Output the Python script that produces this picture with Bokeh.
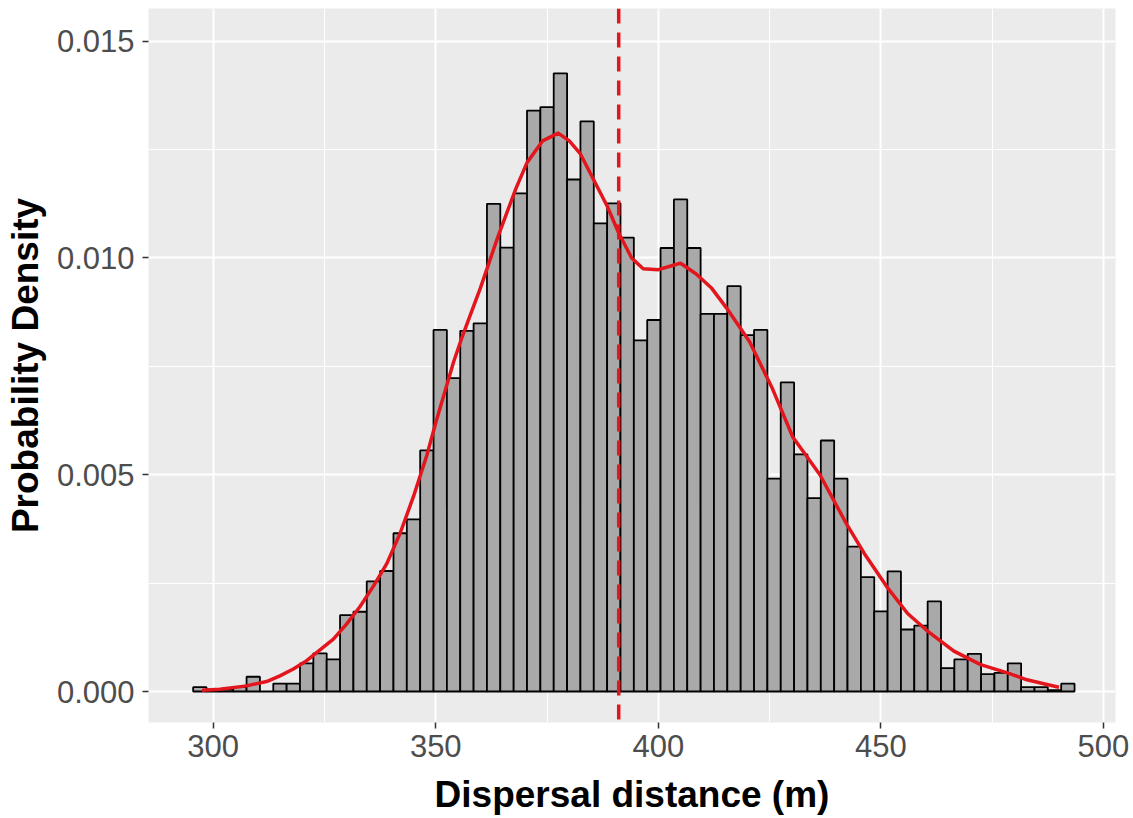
import numpy as np
from bokeh.plotting import figure
from bokeh.models import Range1d, FixedTicker, PrintfTickFormatter, Span, ColumnDataSource
from bokeh.embed import file_html
from bokeh.resources import INLINE

# ---- data ----
bin_start = 295.5
bin_width = 3.0
density_hist = [
    0.00010, 0.00005, 0.00005, 0.00010, 0.00034, 0.00000, 0.00018, 0.00018,
    0.00065, 0.00088, 0.00074, 0.00176, 0.00184, 0.00254, 0.00278, 0.00365,
    0.00397, 0.00556, 0.00834, 0.00723, 0.00832, 0.00849, 0.01125, 0.01024,
    0.01149, 0.01340, 0.01348, 0.01426, 0.01181, 0.01315, 0.01080, 0.01126,
    0.01047, 0.00810, 0.00857, 0.01023, 0.01135, 0.01023, 0.00871, 0.00871,
    0.00935, 0.00822, 0.00834, 0.00491, 0.00713, 0.00547, 0.00446, 0.00579,
    0.00491, 0.00334, 0.00264, 0.00185, 0.00277, 0.00143, 0.00152, 0.00208,
    0.00054, 0.00074, 0.00087, 0.00040, 0.00043, 0.00065, 0.00010, 0.00010,
    0.00003, 0.00018,
]
kde_x = [297.5, 301.5, 307.5, 312.0, 315.0, 318.0, 321.0, 324.0, 327.0, 330.0,
         333.0, 336.0, 339.0, 342.0, 345.0, 348.0, 350.0, 352.0, 354.0, 356.0,
         358.0, 360.0, 362.0, 364.0, 366.0, 368.0, 370.5, 374.0, 377.5, 380.0,
         382.5, 385.5, 388.5, 391.0, 394.0, 396.6, 400.0, 403.0, 405.0, 408.5,
         412.0, 415.3, 420.5, 425.7, 430.2, 436.3, 442.3, 446.3, 451.3, 456.0,
         460.4, 466.4, 472.4, 478.4, 482.8, 487.3, 490.0]
kde_y = [0.00003, 0.00005, 0.00013, 0.00023, 0.00036, 0.00052, 0.00071, 0.00096, 0.00121, 0.00156,
         0.00196, 0.00243, 0.00295, 0.00365, 0.00450, 0.00545, 0.00620, 0.00690, 0.00760, 0.00820,
         0.00875, 0.00930, 0.00990, 0.01050, 0.01105, 0.01160, 0.01220, 0.01270, 0.01288, 0.01270,
         0.01240, 0.01180, 0.01120, 0.01060, 0.01000, 0.00975, 0.00973, 0.00982, 0.00988, 0.00963,
         0.00930, 0.00885, 0.00807, 0.00697, 0.00587, 0.00500, 0.00386, 0.00318, 0.00242, 0.00180,
         0.00140, 0.00093, 0.00062, 0.00043, 0.00027, 0.00016, 0.00010]
mean_distance = 391.1
x_ticks = [300, 350, 400, 450, 500]
y_ticks = [0.000, 0.005, 0.010, 0.015]

lefts = [bin_start + i * bin_width for i in range(len(density_hist))]
rights = [l + bin_width for l in lefts]
src = ColumnDataSource(dict(left=lefts, right=rights, top=density_hist, bottom=[0] * len(lefts)))

p = figure(width=1133, height=818, output_backend="svg", toolbar_location=None,
           x_range=Range1d(285.47, 502.7), y_range=Range1d(-0.000715, 0.015755))
p.min_border_left = 148
p.min_border_right = 18
p.min_border_top = 8
p.min_border_bottom = 96
p.background_fill_color = "#EBEBEB"
p.border_fill_color = "white"
p.outline_line_color = None

p.quad(left="left", right="right", top="top", bottom="bottom", source=src,
       fill_color="#A9A9A9", line_color="black", line_width=1.8)
p.line(kde_x, kde_y, line_color="#E3161E", line_width=3.5, line_join="round")
p.add_layout(Span(location=mean_distance, dimension="height", line_color="#E3161E",
                  line_width=3.5, line_dash="15 9"))

p.xaxis.ticker = FixedTicker(ticks=x_ticks, minor_ticks=[325, 375, 425, 475])
p.yaxis.ticker = FixedTicker(ticks=y_ticks, minor_ticks=[0.0025, 0.0075, 0.0125])
p.xaxis.formatter = PrintfTickFormatter(format="%d")
p.yaxis.formatter = PrintfTickFormatter(format="%.3f")

for ax in (p.xaxis, p.yaxis):
    ax.axis_line_color = None
    ax.major_tick_line_color = "#333333"
    ax.major_tick_line_width = 1.5
    ax.major_tick_in = 0
    ax.major_tick_out = 6
    ax.minor_tick_line_color = None
    ax.major_label_text_font = "Liberation Sans"
    ax.major_label_text_font_size = "31px"
    ax.major_label_text_color = "#4D4D4D"
    ax.axis_label_text_font = "Liberation Sans"
    ax.axis_label_text_font_size = "37px"
    ax.axis_label_text_font_style = "bold"
    ax.axis_label_text_color = "black"

p.xaxis.axis_label = "Dispersal distance (m)"
p.yaxis.axis_label = "Probability Density"
p.xaxis.major_label_standoff = 6
p.yaxis.major_label_standoff = 8
p.xaxis.axis_label_standoff = 14
p.yaxis.axis_label_standoff = 8

for g in (p.xgrid, p.ygrid):
    g.grid_line_color = "white"
    g.grid_line_width = 2
    g.minor_grid_line_color = "white"
    g.minor_grid_line_width = 1

open("out.html", "w").write(file_html(p, INLINE))
